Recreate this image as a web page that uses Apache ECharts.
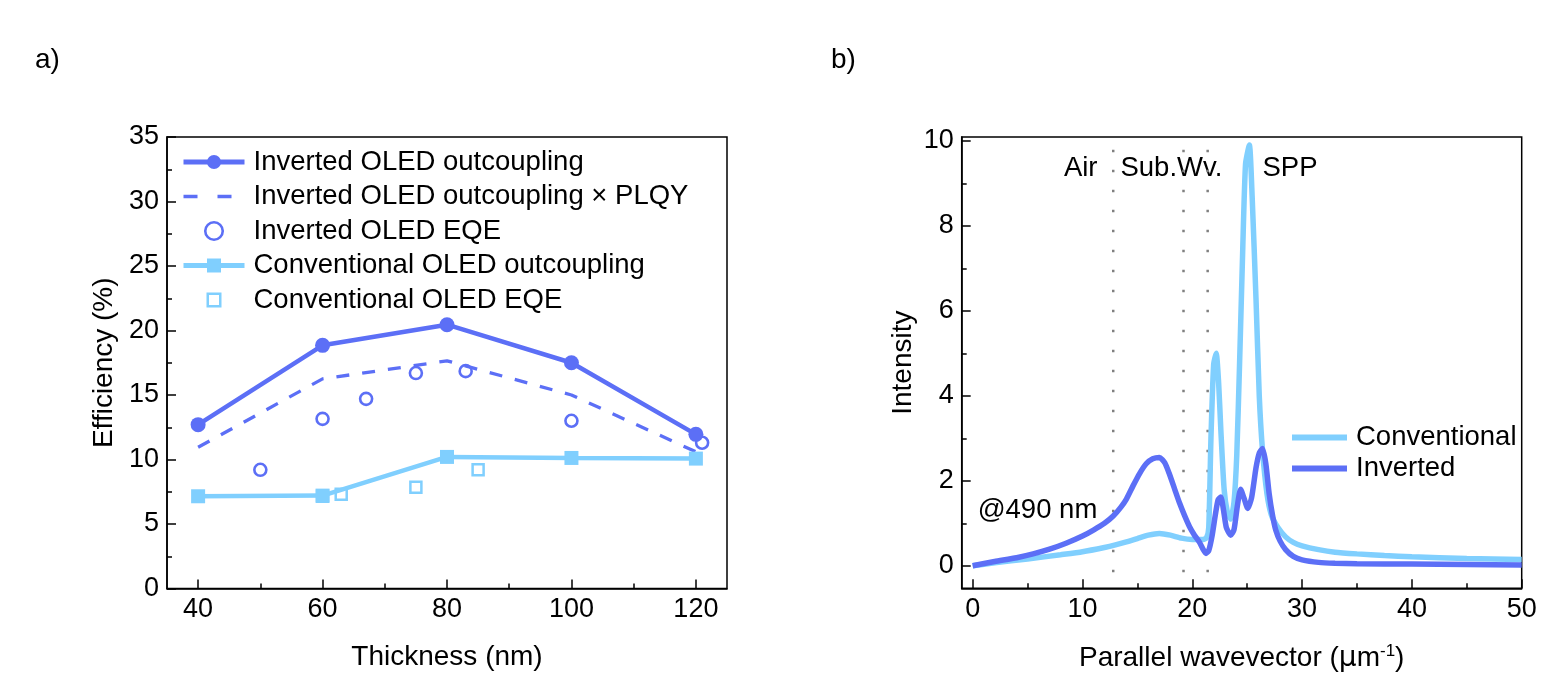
<!DOCTYPE html>
<html>
<head>
<meta charset="utf-8">
<script src="https://cdn.jsdelivr.net/npm/echarts@6/dist/echarts.min.js"></script>
<style>
  html, body { margin: 0; padding: 0; background: #fff; }
  #main { width: 1555px; height: 684px; }
</style>
</head>
<body>
<div id="main"></div>
<script>
// 颜色
var darkBlue = '#5C6FF6'
var lightBlue = '#80CFFE'
var font = 'Liberation Sans, Arial, sans-serif'

// a) 厚度 - 效率
var invOutcoupling = [[40, 12.7], [60, 18.85], [80, 20.45], [100, 17.5], [120, 11.95]]
var invPLQY = [[40, 10.95], [60, 16.25], [80, 17.65], [100, 15.0], [120, 10.6]]
var invEQE = [[50, 9.2], [60, 13.15], [67, 14.7], [75, 16.7], [83, 16.85], [100, 13.0], [121, 11.3]]
var convOutcoupling = [[40, 7.15], [60, 7.2], [80, 10.2], [100, 10.12], [120, 10.07]]
var convEQE = [[60, 7.15], [63, 7.3], [75, 7.85], [85, 9.2]]
var thicknessTicks = [40, 60, 80, 100, 120]
var thicknessMinor = [50, 70, 90, 110]

// b) 平行波矢 - 强度 @490 nm
var convSpectrum = [
    [0, 0], [2, 0.07], [5, 0.16], [8, 0.26], [10, 0.33], [12, 0.43], [13, 0.49], [14, 0.56],
    [15, 0.64], [16, 0.72], [17, 0.76], [18, 0.72], [19, 0.65], [20, 0.62], [21, 0.62],
    [21.3, 0.66], [21.5, 0.9], [21.7, 3.0], [21.95, 4.75], [22.18, 5.0], [22.4, 4.3],
    [22.6, 3.2], [22.9, 1.8], [23.2, 1.25], [23.5, 1.1], [23.8, 1.5], [24.05, 2.6],
    [24.3, 4.7], [24.6, 7.5], [24.85, 9.45], [25.2, 9.9], [25.45, 8.7], [25.8, 6.3],
    [26.1, 4.0], [26.4, 2.7], [26.8, 1.7], [27.2, 1.2], [27.8, 0.9], [28.5, 0.68],
    [29.2, 0.55], [30, 0.47], [31.5, 0.38], [33, 0.32], [35, 0.28], [37.5, 0.24],
    [40, 0.21], [45, 0.17], [50, 0.15]
]
var invSpectrum = [
    [0, 0], [2, 0.1], [4, 0.19], [5.5, 0.28], [7, 0.39], [8.5, 0.53], [10, 0.7], [11, 0.84],
    [12, 1.0], [12.8, 1.17], [13.5, 1.38], [14, 1.57], [14.6, 1.88], [15.2, 2.17], [15.8, 2.4],
    [16.4, 2.52], [17, 2.55], [17.5, 2.42], [17.9, 2.17], [18.4, 1.8], [18.85, 1.47],
    [19.3, 1.18], [19.75, 0.92], [20.2, 0.72], [20.66, 0.55], [21.0, 0.38], [21.25, 0.29],
    [21.5, 0.36], [21.8, 0.7], [22.1, 1.2], [22.35, 1.55], [22.6, 1.62], [22.85, 1.3],
    [23.1, 0.9], [23.5, 0.72], [23.8, 0.85], [24.1, 1.4], [24.4, 1.8], [24.7, 1.6],
    [25.05, 1.35], [25.4, 1.6], [25.8, 2.3], [26.1, 2.65], [26.4, 2.76], [26.7, 2.4],
    [27.0, 1.7], [27.3, 1.2], [27.6, 0.84], [28, 0.58], [28.5, 0.38], [29.2, 0.22],
    [30, 0.14], [31.5, 0.08], [33, 0.06], [35, 0.05], [40, 0.04], [45, 0.03], [50, 0.02]
]
var dividerX = [12.8, 19.2, 21.4]   // Air / Sub.Wv. / SPP 分界
var dividerSpan = [-0.15, 9.8]
var regionLabels = [['Air', 9.84, 9.35], ['Sub.Wv.', 18.1, 9.35], ['SPP', 28.9, 9.35], ['@490 nm', 5.9, 1.31]]
var wavevectorTicks = [0, 10, 20, 30, 40, 50]
var wavevectorMinor = [5, 15, 25, 35, 45]
var intensityTicks = [0, 2, 4, 6, 8, 10]
var intensityMinor = [1, 3, 5, 7, 9]

var myChart = echarts.init(document.getElementById('main'))

var nameText = { color: '#000', fontSize: 28, fontFamily: font }
var tickFont = 27
var textFont = 27.5
// 图例里的空心方块（加了外框留白，使方块不被拉伸）
var squareIcon = 'path://M-2,-2M12,12M0,0H10V10H0Z'

// 主刻度轴
function majorAxis(gridIndex, min, max, ticks, extra) {
    var axis = {
        type: 'value', gridIndex: gridIndex, min: min, max: max,
        axisLine: { show: true, onZero: false, lineStyle: { color: '#000', width: 1.5 } },
        axisTick: { show: true, inside: true, length: 9, customValues: ticks, lineStyle: { color: '#000', width: 1.5 } },
        axisLabel: { show: true, customValues: ticks, margin: 8, color: '#000', fontSize: tickFont, fontFamily: font },
        splitLine: { show: false }
    }
    for (var k in extra) axis[k] = extra[k]
    return axis
}
// 次刻度轴，只画短刻度
function minorAxis(gridIndex, min, max, ticks, position) {
    return {
        type: 'value', gridIndex: gridIndex, min: min, max: max, position: position,
        axisLine: { show: false, onZero: false },
        axisTick: { show: true, inside: true, length: 5, customValues: ticks, lineStyle: { color: '#000', width: 1.5 } },
        axisLabel: { show: false },
        splitLine: { show: false }
    }
}

var option = {
    animation: false,
    backgroundColor: '#fff',
    textStyle: { fontFamily: font },
    grid: [
        { left: 167, top: 137, width: 560, height: 451.5, show: true, borderColor: '#000', borderWidth: 1.5 },
        { left: 961.7, top: 137, width: 560, height: 451.3, show: true, borderColor: '#000', borderWidth: 1.5 }
    ],
    xAxis: [
        majorAxis(0, 35, 125, thicknessTicks, {
            position: 'bottom', name: 'Thickness (nm)', nameLocation: 'middle', nameGap: 55, nameTextStyle: nameText
        }),
        minorAxis(0, 35, 125, thicknessMinor, 'bottom'),
        majorAxis(1, -1, 50, wavevectorTicks, {
            position: 'bottom',
            name: 'Parallel wavevector ({mu|μ}m{sup|-1})', nameLocation: 'middle', nameGap: 55,
            nameTextStyle: {
                color: '#000', fontSize: 28, fontFamily: font,
                rich: {
                    mu: { color: '#000', fontSize: 28, fontFamily: 'DejaVu Sans' },
                    sup: { color: '#000', fontSize: 17, fontFamily: font, padding: [0, 0, 13, 0] }
                }
            }
        }),
        minorAxis(1, -1, 50, wavevectorMinor, 'bottom')
    ],
    yAxis: [
        {
            type: 'value', gridIndex: 0, min: 0, max: 35, interval: 5,
            axisLine: { show: true, onZero: false, lineStyle: { color: '#000', width: 1.5 } },
            axisTick: { show: true, inside: true, length: 9, lineStyle: { color: '#000', width: 1.5 } },
            minorTick: { show: true, splitNumber: 2, length: 5, lineStyle: { color: '#000', width: 1.5 } },
            axisLabel: { margin: 8, color: '#000', fontSize: tickFont, fontFamily: font },
            splitLine: { show: false },
            name: 'Efficiency (%)', nameLocation: 'middle', nameGap: 49, nameTextStyle: nameText
        },
        majorAxis(1, -0.53, 10.09, intensityTicks, {
            position: 'left', name: 'Intensity', nameLocation: 'middle', nameGap: 44, nameTextStyle: nameText
        }),
        minorAxis(1, -0.53, 10.09, intensityMinor, 'left')
    ],
    legend: [
        {
            left: 176, top: 143, orient: 'vertical', itemWidth: 61, itemHeight: 17.5, itemGap: 6.5,
            textStyle: { color: '#000', fontSize: textFont, fontFamily: font, padding: [0, 0, 0, 4] },
            data: [
                { name: 'Inverted OLED outcoupling', lineStyle: { width: 5 } },
                { name: 'Inverted OLED outcoupling × PLQY', lineStyle: { width: 3.5, type: [14, 20] }, itemStyle: { opacity: 0 } },
                { name: 'Inverted OLED EQE', itemStyle: { color: '#fff', borderColor: darkBlue, borderWidth: 2.6 } },
                { name: 'Conventional OLED outcoupling', lineStyle: { width: 5 } },
                {
                    name: 'Conventional OLED EQE', icon: squareIcon,
                    itemStyle: { color: '#fff', borderColor: lightBlue, borderWidth: 2.5 }
                }
            ]
        },
        {
            left: 1284, top: 418.5, orient: 'vertical', itemWidth: 55, itemHeight: 14, itemGap: 3,
            textStyle: { color: '#000', fontSize: textFont, fontFamily: font, padding: [0, 0, 0, 4] },
            data: [
                { name: 'Conventional', lineStyle: { width: 6 }, itemStyle: { opacity: 0 } },
                { name: 'Inverted', lineStyle: { width: 6 }, itemStyle: { opacity: 0 } }
            ]
        }
    ],
    series: [
        {
            name: 'Inverted OLED outcoupling', type: 'line', xAxisIndex: 0, yAxisIndex: 0,
            data: invOutcoupling, symbol: 'circle', symbolSize: 15, color: darkBlue,
            lineStyle: { width: 4.5, color: darkBlue }, itemStyle: { color: darkBlue }
        },
        {
            name: 'Inverted OLED outcoupling × PLQY', type: 'line', xAxisIndex: 0, yAxisIndex: 0,
            data: invPLQY, symbol: 'none', color: darkBlue,
            lineStyle: { width: 3.3, color: darkBlue, type: [13, 13] }
        },
        {
            // 空心圆：白色填充 + 描边
            name: 'Inverted OLED EQE', type: 'scatter', xAxisIndex: 0, yAxisIndex: 0,
            data: invEQE, symbol: 'circle', symbolSize: 12, color: darkBlue,
            itemStyle: { color: '#fff', borderColor: darkBlue, borderWidth: 2.6, opacity: 1 }
        },
        {
            name: 'Conventional OLED outcoupling', type: 'line', xAxisIndex: 0, yAxisIndex: 0,
            data: convOutcoupling, symbol: 'rect', symbolSize: 14, color: lightBlue,
            lineStyle: { width: 4.5, color: lightBlue }, itemStyle: { color: lightBlue }
        },
        {
            name: 'Conventional OLED EQE', type: 'scatter', xAxisIndex: 0, yAxisIndex: 0,
            data: convEQE, symbol: 'rect', symbolSize: 11, color: lightBlue,
            itemStyle: { color: '#fff', borderColor: lightBlue, borderWidth: 2.5, opacity: 1 }
        }
    ]
}

// 分界虚线
dividerX.forEach(function (x) {
    option.series.push({
        type: 'line', xAxisIndex: 2, yAxisIndex: 1, symbol: 'none', silent: true,
        data: [[x, dividerSpan[0]], [x, dividerSpan[1]]],
        lineStyle: { color: '#808080', width: 2.5, type: [2.5, 17.5] }
    })
})

option.series.push(
    {
        name: 'Conventional', type: 'line', xAxisIndex: 2, yAxisIndex: 1, data: convSpectrum,
        symbol: 'none', smooth: 0.2, color: lightBlue, lineStyle: { width: 5.5, color: lightBlue }
    },
    {
        name: 'Inverted', type: 'line', xAxisIndex: 2, yAxisIndex: 1, data: invSpectrum,
        symbol: 'none', smooth: 0.2, color: darkBlue, lineStyle: { width: 5.5, color: darkBlue }
    },
    {
        // 区域标注文字
        type: 'scatter', xAxisIndex: 2, yAxisIndex: 1, symbolSize: 0, silent: true,
        data: regionLabels.map(function (r) { return { value: [r[1], r[2]], name: r[0] } }),
        itemStyle: { color: 'transparent', opacity: 1 },
        label: {
            show: true, position: 'inside', formatter: '{b}',
            color: '#000', fontSize: textFont, fontFamily: font, textBorderWidth: 0
        }
    }
)

option.graphic = [
    { type: 'text', left: 35, top: 46, style: { text: 'a)', fill: '#000', fontSize: 28, fontFamily: font } },
    { type: 'text', left: 831, top: 46, style: { text: 'b)', fill: '#000', fontSize: 28, fontFamily: font } }
]

myChart.setOption(option)
window.addEventListener('resize', () => {
    myChart.resize()
})
</script>
</body>
</html>
